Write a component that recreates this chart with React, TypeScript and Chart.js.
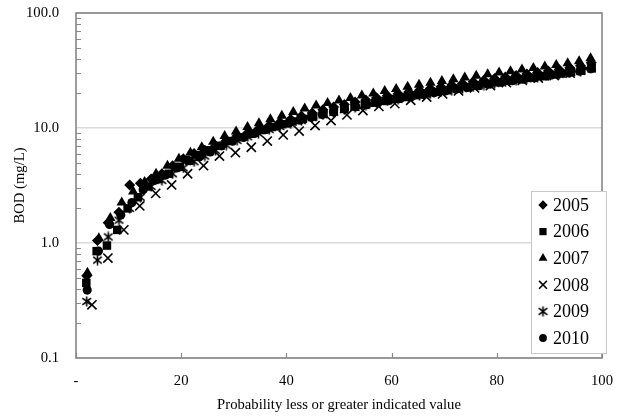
import React, { useEffect, useRef } from 'react';
import { Chart, registerables } from 'chart.js';
import { drawPoint } from 'chart.js/helpers';

Chart.register(...registerables);

// ---- data (BOD, mg/L, sorted ascending per year) ----
const YEARS = ['2005', '2006', '2007', '2008', '2009', '2010'];

const bod2005 = [
  0.52, 1.05, 1.5, 1.85, 3.2, 3.3, 3.6, 4.0, 4.7, 5.4,
  6.0, 6.4, 7.0, 7.8, 8.5, 9.1, 9.8, 10.5, 11.2, 11.9,
  12.7, 13.5, 14.4, 15.2, 16.0, 16.8, 17.5, 18.3, 19.1, 19.9,
  20.6, 21.3, 22.0, 22.8, 23.6, 24.4, 25.2, 26.0, 26.9, 27.8,
  28.6, 29.5, 30.4, 31.3, 32.3, 33.4, 34.8, 37.0,
];
const bod2006 = [
  0.45, 0.85, 0.95, 1.3, 2.0, 2.5, 3.1, 3.6, 4.0, 4.6,
  5.2, 5.8, 6.4, 7.0, 7.7, 8.3, 8.9, 9.6, 10.2, 10.8,
  11.4, 12.0, 12.6, 13.3, 14.0, 14.7, 15.4, 16.0, 16.6, 17.2,
  17.9, 18.6, 19.3, 20.0, 20.6, 21.3, 22.0, 22.7, 23.4, 24.2,
  25.0, 25.8, 26.6, 27.4, 28.2, 29.0, 29.8, 30.6, 31.5, 33.0,
];
const bod2007 = [
  0.55, 1.1, 1.65, 2.25, 2.8, 3.4, 4.0, 4.7, 5.4, 6.1,
  6.8, 7.6, 8.5, 9.3, 10.2, 11.0, 11.9, 12.8, 13.8, 14.8,
  15.7, 16.5, 17.3, 18.2, 19.2, 20.0, 21.0, 21.8, 22.8, 23.8,
  24.7, 25.6, 26.6, 27.5, 28.5, 29.4, 30.4, 31.2, 32.2, 33.2,
  34.2, 35.3, 36.6, 38.0, 40.5,
];
const bod2008 = [
  0.29, 0.74, 1.3, 2.1, 2.7, 3.2, 4.0, 4.7, 5.7, 6.1,
  6.8, 7.7, 8.7, 9.4, 10.5, 11.6, 13.0, 14.2, 15.4, 16.3,
  17.4, 18.6, 19.8, 21.0, 22.3, 23.4, 24.8, 26.0, 27.2, 28.6,
  30.0, 33.0,
];
const bod2009 = [
  0.31, 0.71, 1.13, 1.58, 2.0, 2.5, 3.1, 3.5, 4.0, 4.5,
  5.1, 5.7, 6.4, 7.1, 7.8, 8.4, 9.0, 9.7, 10.3, 10.9,
  11.6, 12.3, 13.0, 13.7, 14.4, 15.1, 15.8, 16.5, 17.2, 17.8,
  18.5, 19.2, 19.9, 20.6, 21.3, 22.0, 22.8, 23.6, 24.4, 25.2,
  26.0, 26.8, 27.6, 28.4, 29.3, 30.2, 31.3, 33.5,
];
const bod2010 = [
  0.39, 0.85, 1.45, 1.75, 2.25, 2.9, 3.5, 3.9, 4.5, 5.2,
  5.6, 6.2, 7.0, 7.7, 8.3, 9.0, 9.7, 10.4, 11.0, 11.7,
  12.4, 13.1, 13.8, 14.6, 15.3, 16.0, 16.7, 17.4, 18.1, 18.8,
  19.6, 20.3, 21.0, 21.8, 22.5, 23.3, 24.1, 25.0, 25.8, 26.6,
  27.4, 28.3, 29.2, 30.1, 31.2, 32.8,
];

const X_TICKS = [0, 20, 40, 60, 80, 100];
const Y_DECADES = [0.1, 1, 10, 100];
const X_TITLE = 'Probability less or greater indicated value';
const Y_TITLE = 'BOD (mg/L)';

const FONT = "'Liberation Serif', 'Times New Roman', serif";

// Weibull plotting position of ranked values
function rankPositions(values: number[]) {
  const n = values.length;
  return values.map((v, i) => ({ x: ((i + 1) / (n + 1)) * 100, y: v }));
}

function makeAsterisk(): HTMLCanvasElement {
  const c = document.createElement('canvas');
  c.width = 11;
  c.height = 11;
  const g = c.getContext('2d')!;
  g.strokeStyle = '#000';
  g.lineWidth = 1.6;
  g.beginPath();
  g.moveTo(5.5, 0.5);
  g.lineTo(5.5, 10.5);
  g.moveTo(1.2, 2.2);
  g.lineTo(9.8, 8.8);
  g.moveTo(9.8, 2.2);
  g.lineTo(1.2, 8.8);
  g.stroke();
  return c;
}

const framePlugin = {
  id: 'frameTicks',
  beforeDatasetsDraw(chart: any) {
    const { ctx, chartArea } = chart;
    const { left, right, top, bottom } = chartArea;
    const ys = chart.scales.y;
    const xs = chart.scales.x;
    ctx.save();
    ctx.strokeStyle = '#8a8a8a';
    ctx.lineWidth = 1.2;
    ctx.beginPath();
    for (let e = -1; e <= 1; e++) {
      for (let m = 2; m <= 9; m++) {
        const py = Math.round(ys.getPixelForValue(m * Math.pow(10, e))) + 0.5;
        ctx.moveTo(left, py);
        ctx.lineTo(left + 5, py);
      }
    }
    X_TICKS.forEach((t) => {
      const px = Math.round(xs.getPixelForValue(t)) + 0.5;
      ctx.moveTo(px, bottom);
      ctx.lineTo(px, bottom - 5);
    });
    ctx.stroke();
    ctx.lineWidth = 1.6;
    ctx.strokeStyle = '#868686';
    ctx.strokeRect(left, top, right - left, bottom - top);
    ctx.restore();
  },
};

const legendPlugin = {
  id: 'boxLegend',
  afterDatasetsDraw(chart: any) {
    const { ctx, chartArea } = chart;
    const boxRight = chartArea.right + 4;
    const boxBottom = chartArea.bottom - 5;
    const w = 75;
    const h = 162;
    const bx = boxRight - w;
    const by = boxBottom - h;
    ctx.save();
    ctx.fillStyle = '#fff';
    ctx.fillRect(bx, by, w, h);
    ctx.strokeStyle = '#c8c8c8';
    ctx.lineWidth = 1;
    ctx.strokeRect(bx + 0.5, by + 0.5, w, h);
    chart.data.datasets.forEach((ds: any, i: number) => {
      const cy = by + 14 + i * 26.6;
      const cx = bx + 12;
      ctx.fillStyle = '#000';
      ctx.strokeStyle = '#000';
      ctx.lineWidth = ds.borderWidth || 0;
      drawPoint(ctx, {
        pointStyle: ds.pointStyle,
        radius: ds.pointRadius * 0.85,
        rotation: 0,
        borderWidth: ds.borderWidth || 0,
      } as any, cx, cy);
      ctx.fillStyle = '#000';
      ctx.font = `18px ${FONT}`;
      ctx.textAlign = 'left';
      ctx.textBaseline = 'middle';
      ctx.fillText(ds.label, bx + 22, cy + 1);
    });
    ctx.restore();
  },
};

export default function App() {
  const ref = useRef<HTMLCanvasElement | null>(null);

  useEffect(() => {
    if (!ref.current) return;
    const asterisk = makeAsterisk();
    const series = [bod2005, bod2006, bod2007, bod2008, bod2009, bod2010];
    const styles: any[] = [
      { pointStyle: 'rectRot', pointRadius: 5.5, borderWidth: 0 },
      { pointStyle: 'rect', pointRadius: 6, borderWidth: 0 },
      { pointStyle: 'triangle', pointRadius: 6, borderWidth: 0 },
      { pointStyle: 'crossRot', pointRadius: 6.5, borderWidth: 1.6 },
      { pointStyle: asterisk, pointRadius: 5.5, borderWidth: 0 },
      { pointStyle: 'circle', pointRadius: 4.6, borderWidth: 0 },
    ];
    const datasets = YEARS.map((yr, i) => ({
      label: yr,
      data: rankPositions(series[i]),
      showLine: false,
      backgroundColor: '#000',
      borderColor: '#000',
      pointBackgroundColor: '#000',
      pointBorderColor: '#000',
      ...styles[i],
      pointBorderWidth: styles[i].borderWidth,
      pointHoverRadius: styles[i].pointRadius,
    }));

    const chart = new Chart(ref.current, {
      type: 'scatter',
      data: { datasets },
      options: {
        animation: false,
        responsive: false,
        events: [],
        layout: { autoPadding: false, padding: { top: 13, right: 23, left: 0, bottom: 0 } },
        plugins: {
          legend: { display: false },
          tooltip: { enabled: false },
        },
        scales: {
          x: {
            type: 'linear',
            min: 0,
            max: 100,
            afterBuildTicks: (scale: any) => {
              scale.ticks = X_TICKS.map((v) => ({ value: v }));
            },
            afterFit: (scale: any) => {
              scale.height = 59;
              scale.paddingLeft = 0;
              scale.paddingRight = 0;
              scale.paddingTop = 0;
              scale.paddingBottom = 0;
            },
            grid: { display: false, drawTicks: false },
            border: { display: false },
            ticks: {
              color: '#000',
              padding: 14,
              maxRotation: 0,
              autoSkip: false,
              font: { family: FONT, size: 14.67 },
              callback: (v: any) => (Number(v) === 0 ? '-' : String(v)),
            },
            title: {
              display: true,
              text: X_TITLE,
              color: '#000',
              font: { family: FONT, size: 14.67 },
              padding: { top: 0, bottom: 3.2 },
            },
          },
          y: {
            type: 'logarithmic',
            min: 0.1,
            max: 100,
            afterBuildTicks: (scale: any) => {
              scale.ticks = Y_DECADES.map((v) => ({ value: v }));
            },
            afterFit: (scale: any) => {
              scale.width = 76;
              scale.paddingLeft = 0;
              scale.paddingRight = 0;
              scale.paddingTop = 0;
              scale.paddingBottom = 0;
            },
            grid: { color: '#d9d9d9', lineWidth: 1.5, drawTicks: false },
            border: { display: false },
            ticks: {
              color: '#000',
              padding: 17,
              autoSkip: false,
              font: { family: FONT, size: 14.67 },
              callback: (v: any) => Number(v).toFixed(1),
            },
            title: {
              display: true,
              text: Y_TITLE,
              color: '#000',
              font: { family: FONT, size: 14.67 },
              padding: { top: 11.2, bottom: 0 },
            },
          },
        },
      },
      plugins: [framePlugin, legendPlugin],
    } as any);

    return () => chart.destroy();
  }, []);

  return (
    <div style={{ position: 'fixed', left: 0, top: 0, width: 625, height: 417, background: '#fff' }}>
      <canvas ref={ref} width={625} height={417} style={{ display: 'block' }} />
    </div>
  );
}
